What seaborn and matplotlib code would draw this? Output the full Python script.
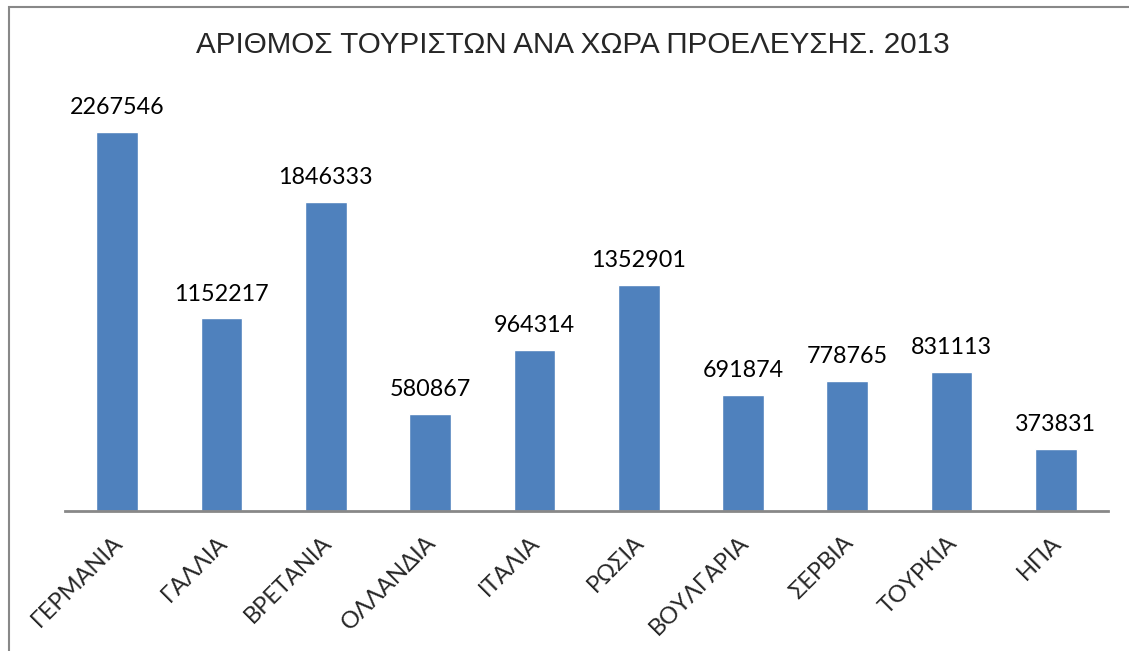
import pandas as pd
import matplotlib
matplotlib.use("Agg")
import matplotlib.pyplot as plt
import matplotlib.transforms as mtransforms
from matplotlib.patches import Rectangle
import seaborn as sns

# Δεδομένα
countries = ["ΓΕΡΜΑΝΙΑ", "ΓΑΛΛΙΑ", "ΒΡΕΤΑΝΙΑ", "ΟΛΛΑΝΔΙΑ", "ΙΤΑΛΙΑ",
             "ΡΩΣΙΑ", "ΒΟΥΛΓΑΡΙΑ", "ΣΕΡΒΙΑ", "ΤΟΥΡΚΙΑ", "ΗΠΑ"]
tourists = [2267546, 1152217, 1846333, 580867, 964314,
            1352901, 691874, 778765, 831113, 373831]

df = pd.DataFrame({"country": countries, "tourists": tourists})

sns.set_theme(style="white")
plt.rcParams["font.family"] = ["Lato", "DejaVu Sans"]

fig = plt.figure(figsize=(11.29, 6.51), dpi=100)
ax = fig.add_axes([0.0576, 0.215, 0.9238, 0.642])

sns.barplot(data=df, x="country", y="tourists", color="#4F81BD",
            saturation=1, width=0.4, ax=ax)

ax.set_ylim(0, 2500000)
ax.set_xlim(-0.5, len(countries) - 0.5)
ax.set_xlabel("")
ax.set_ylabel("")
ax.set_yticks([])

for s in ["top", "right", "left"]:
    ax.spines[s].set_visible(False)
ax.spines["bottom"].set_color("#888888")
ax.spines["bottom"].set_linewidth(2)

# Ετικέτες τιμών
for i, v in enumerate(tourists):
    ax.annotate(str(v), (i, v), xytext=(0, 10), textcoords="offset points",
                ha="center", va="bottom", fontsize=16.8, color="black")

ax.tick_params(axis="x", length=0, pad=15)
ax.set_xticks(range(len(countries)))
ax.set_xticklabels(countries, rotation=45, ha="right", va="top",
                   rotation_mode="anchor", fontsize=17)
shift = mtransforms.ScaledTranslation(-5 / 100, 0, fig.dpi_scale_trans)
for lbl in ax.get_xticklabels():
    lbl.set_transform(lbl.get_transform() + shift)

fig.text(0.5076, 0.931, "ΑΡΙΘΜΟΣ ΤΟΥΡΙΣΤΩΝ ΑΝΑ ΧΩΡΑ ΠΡΟΕΛΕΥΣΗΣ. 2013",
         ha="center", va="center", fontsize=21.3,
         family=["Liberation Sans", "DejaVu Sans"])

# Πλαίσιο γραφήματος
fig.patches.append(Rectangle((0.008, -0.2), 1.2, 1.189, transform=fig.transFigure,
                             fill=False, edgecolor="#888888", linewidth=1.5))

fig.savefig("out.png", dpi=100)
